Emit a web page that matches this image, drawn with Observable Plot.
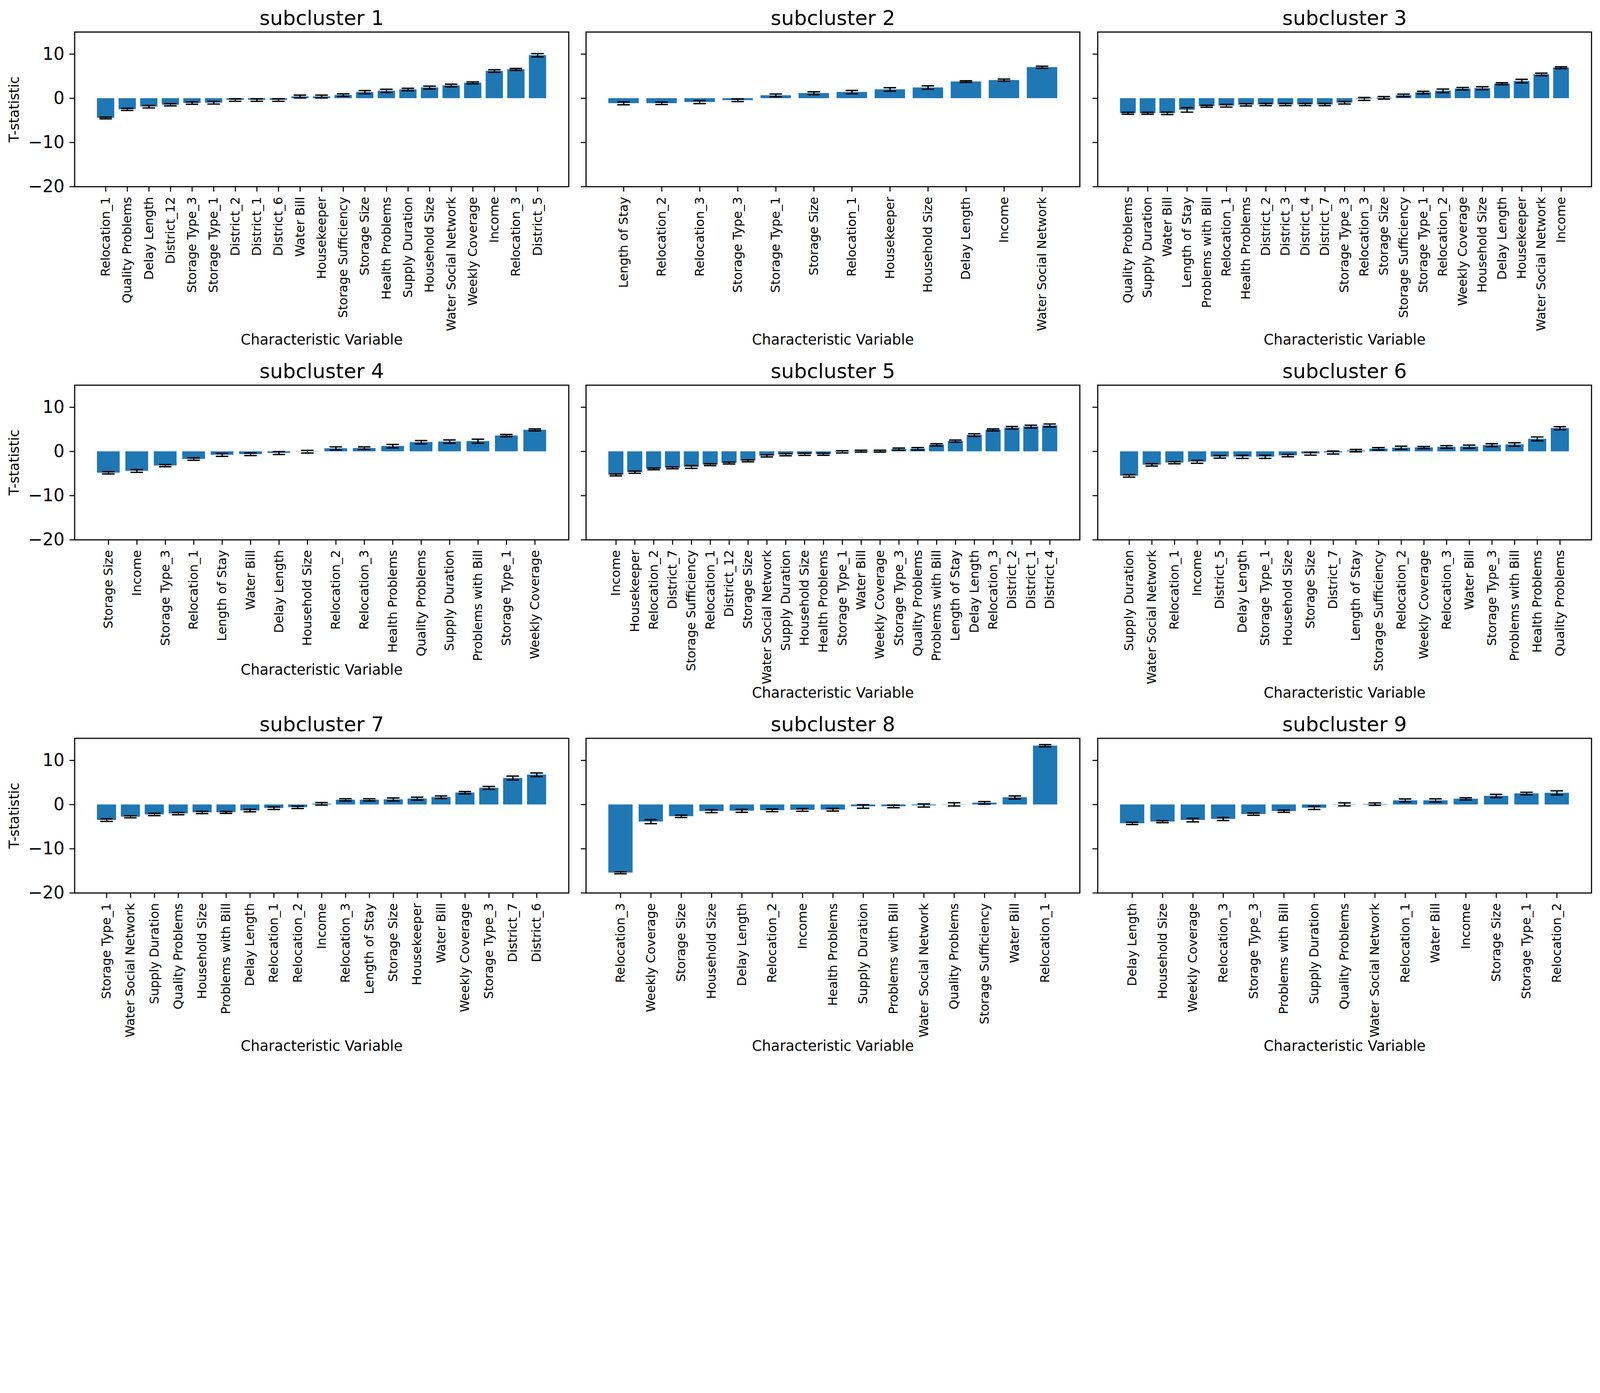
<!DOCTYPE html>
<html>
<head>
<meta charset="utf-8">
<script src="https://cdn.jsdelivr.net/npm/d3@7"></script>
<script src="https://cdn.jsdelivr.net/npm/@observablehq/plot@0.6"></script>
<style>
  html, body { margin: 0; padding: 0; background: white; overflow: hidden; }
  #chart { position: absolute; left: 0; top: 0; width: 5369px; height: 3566px; background: white; overflow: hidden; transform-origin: 0 0; }
  #chart svg { position: absolute; max-width: none; }
</style>
</head>
<body>
<div id="chart"></div>
<script>
// ---------- data ----------
const titles = ["subcluster 1","subcluster 2","subcluster 3","subcluster 4","subcluster 5","subcluster 6","subcluster 7","subcluster 8","subcluster 9"];
const yTicks = [-20, -10, 0, 10];
const yDomain = [-20, 15];
const xLabel = "Characteristic Variable";
const yLabel = "T-statistic";

const names1 = ["Relocation_1","Quality Problems","Delay Length","District_12","Storage Type_3","Storage Type_1","District_2","District_1","District_6","Water Bill","Housekeeper","Storage Sufficiency","Storage Size","Health Problems","Supply Duration","Household Size","Water Social Network","Weekly Coverage","Income","Relocation_3","District_5"];
const values1 = [-4.44,-2.5,-1.9,-1.46,-1.08,-1.0,-0.39,-0.39,-0.39,0.41,0.41,0.72,1.4,1.68,2.0,2.43,2.9,3.5,6.18,6.54,9.74];
const errors1 = [0.2,0.25,0.28,0.25,0.28,0.3,0.29,0.29,0.29,0.32,0.32,0.29,0.36,0.37,0.28,0.33,0.3,0.22,0.29,0.22,0.37];

const names2 = ["Length of Stay","Relocation_2","Relocation_3","Storage Type_3","Storage Type_1","Storage Size","Relocation_1","Housekeeper","Household Size","Delay Length","Income","Water Social Network"];
const values2 = [-1.13,-1.13,-0.86,-0.44,0.66,1.16,1.41,2.01,2.43,3.78,4.11,7.03];
const errors2 = [0.33,0.28,0.34,0.3,0.32,0.32,0.37,0.4,0.39,0.19,0.25,0.25];

const names3 = ["Quality Problems","Supply Duration","Water Bill","Length of Stay","Problems with Bill","Relocation_1","Health Problems","District_2","District_3","District_4","District_7","Storage Type_3","Relocation_3","Storage Size","Storage Sufficiency","Storage Type_1","Relocation_2","Weekly Coverage","Household Size","Delay Length","Housekeeper","Water Social Network","Income"];
const values3 = [-3.39,-3.39,-3.39,-2.62,-1.79,-1.68,-1.46,-1.41,-1.41,-1.41,-1.41,-1.0,-0.14,0.11,0.66,1.3,1.68,2.18,2.29,3.31,3.89,5.41,6.92];
const errors3 = [0.22,0.22,0.28,0.51,0.22,0.3,0.26,0.25,0.25,0.25,0.25,0.28,0.33,0.29,0.29,0.28,0.41,0.28,0.33,0.22,0.41,0.29,0.22];

const names4 = ["Storage Size","Income","Storage Type_3","Relocation_1","Length of Stay","Water Bill","Delay Length","Household Size","Relocation_2","Relocation_3","Health Problems","Quality Problems","Supply Duration","Problems with Bill","Storage Type_1","Weekly Coverage"];
const values4 = [-4.83,-4.41,-3.2,-1.71,-0.77,-0.63,-0.36,-0.05,0.69,0.74,1.21,2.1,2.23,2.32,3.59,4.88];
const errors4 = [0.26,0.32,0.25,0.28,0.34,0.3,0.33,0.3,0.36,0.29,0.39,0.37,0.37,0.46,0.25,0.22];

const names5 = ["Income","Housekeeper","Relocation_2","District_7","Storage Sufficiency","Relocation_1","District_12","Storage Size","Water Social Network","Supply Duration","Household Size","Health Problems","Storage Type_1","Water Bill","Weekly Coverage","Storage Type_3","Quality Problems","Problems with Bill","Length of Stay","Delay Length","Relocation_3","District_2","District_1","District_4"];
const values5 = [-5.3,-4.69,-3.94,-3.7,-3.5,-3.0,-2.62,-2.12,-0.99,-0.72,-0.63,-0.63,-0.08,0.08,0.08,0.52,0.6,1.49,2.34,3.72,4.88,5.35,5.63,5.88];
const errors5 = [0.22,0.25,0.19,0.21,0.32,0.21,0.21,0.22,0.25,0.26,0.26,0.23,0.25,0.22,0.22,0.26,0.28,0.25,0.25,0.29,0.22,0.3,0.32,0.34];

const names6 = ["Supply Duration","Water Social Network","Relocation_1","Income","District_5","Delay Length","Storage Type_1","Household Size","Storage Size","District_7","Length of Stay","Storage Sufficiency","Relocation_2","Weekly Coverage","Relocation_3","Water Bill","Storage Type_3","Problems with Bill","Health Problems","Quality Problems"];
const values6 = [-5.52,-3.03,-2.54,-2.34,-1.21,-1.21,-1.21,-0.91,-0.5,-0.25,0.19,0.61,0.83,0.88,1.02,1.08,1.43,1.57,2.84,5.27];
const errors6 = [0.28,0.26,0.25,0.34,0.29,0.36,0.36,0.28,0.33,0.33,0.28,0.28,0.36,0.25,0.3,0.36,0.34,0.39,0.44,0.34];

const names7 = ["Storage Type_1","Water Social Network","Supply Duration","Quality Problems","Household Size","Problems with Bill","Delay Length","Relocation_1","Relocation_2","Income","Relocation_3","Length of Stay","Storage Size","Housekeeper","Water Bill","Weekly Coverage","Storage Type_3","District_7","District_6"];
const values7 = [-3.5,-2.76,-2.23,-2.04,-1.77,-1.77,-1.35,-0.8,-0.61,0.17,1.08,1.08,1.16,1.35,1.68,2.7,3.78,6.01,6.76];
const errors7 = [0.3,0.23,0.26,0.26,0.26,0.22,0.29,0.3,0.28,0.29,0.26,0.26,0.34,0.33,0.3,0.26,0.33,0.44,0.41];

const names8 = ["Relocation_3","Weekly Coverage","Storage Size","Household Size","Delay Length","Relocation_2","Income","Health Problems","Supply Duration","Problems with Bill","Water Social Network","Quality Problems","Storage Sufficiency","Water Bill","Relocation_1"];
const values8 = [-15.42,-3.86,-2.65,-1.49,-1.41,-1.3,-1.21,-1.16,-0.41,-0.41,-0.19,0.06,0.41,1.63,13.32];
const errors8 = [0.23,0.46,0.26,0.33,0.34,0.3,0.3,0.3,0.4,0.3,0.36,0.36,0.29,0.34,0.25];

const names9 = ["Delay Length","Household Size","Weekly Coverage","Relocation_3","Storage Type_3","Problems with Bill","Supply Duration","Quality Problems","Water Social Network","Relocation_1","Water Bill","Income","Storage Size","Storage Type_1","Relocation_2"];
const values9 = [-4.25,-3.86,-3.5,-3.26,-2.15,-1.49,-0.74,0.06,0.11,0.94,0.94,1.3,1.96,2.51,2.65];
const errors9 = [0.26,0.23,0.41,0.34,0.25,0.26,0.37,0.34,0.28,0.34,0.37,0.25,0.37,0.29,0.46];

const panels = [
  [names1, values1, errors1], [names2, values2, errors2], [names3, values3, errors3],
  [names4, values4, errors4], [names5, values5, errors5], [names6, values6, errors6],
  [names7, values7, errors7], [names8, values8, errors8], [names9, values9, errors9]
];

// ---------- layout ----------
const pageW = 5369, pageH = 3566;
const colLeft = [250, 1966, 3683];
const colWidth = [1658, 1657, 1657];
const rowTop = [107, 1292, 2477];
const frameH = 519;
const mT = 107, mR = 20, mB = 560;
const tickLen = 17, tickPad = 17;
const barColor = "#1f77b4";
const font = "DejaVu Sans";
const xTickFont = 42, yTickFont = 58, labelFont = 48, titleFont = 68;
const capWidth = 42;
const labelGap = 11;

const measure = document.createElement("canvas").getContext("2d");
measure.font = `${xTickFont}px '${font}'`;

const fmt = d => d < 0 ? "\u2212" + Math.abs(d) : String(d);
const chart = document.getElementById("chart");

function fit() {
  const vw = document.documentElement.clientWidth || window.innerWidth;
  const vh = document.documentElement.clientHeight || window.innerHeight;
  const s = Math.min(vw / pageW, vh / pageH);
  chart.style.transform = `scale(${s})`;
}
fit();
window.addEventListener("resize", fit);

panels.forEach(([names, values, errors], i) => {
  const r = Math.floor(i / 3), c = i % 3;
  const n = names.length;
  const W = colWidth[c];
  const mL = c === 0 ? 250 : 40;
  const rows = names.map((name, k) => ({name, value: values[k], err: errors[k]}));
  const paddingOuter = 0.05 * (n - 0.2);
  const step = W / (n - 0.2 + 2 * paddingOuter);
  const bw = step * 0.8;
  const inset = (bw - capWidth) / 2;
  const maxW = d3.max(names, s => measure.measureText(s).width);

  const marks = [
    Plot.barY(rows, {x: "name", y: "value", fill: barColor}),
    Plot.ruleX(rows, {x: "name", y1: d => d.value - d.err, y2: d => d.value + d.err, stroke: "black", strokeWidth: 4.5}),
    Plot.tickY(rows, {x: "name", y: d => d.value - d.err, stroke: "black", strokeWidth: 4.5, insetLeft: inset, insetRight: inset}),
    Plot.tickY(rows, {x: "name", y: d => d.value + d.err, stroke: "black", strokeWidth: 4.5, insetLeft: inset, insetRight: inset}),
    Plot.axisX({tickRotate: -90, tickSize: tickLen, tickPadding: tickPad, fontSize: xTickFont, strokeWidth: 3.5, label: null}),
    Plot.axisY({ticks: yTicks, tickSize: tickLen, tickPadding: tickPad, fontSize: yTickFont, strokeWidth: 3.5, label: null,
                tickFormat: c === 0 ? fmt : () => ""}),
    Plot.frame({stroke: "black", strokeWidth: 3.8}),
    Plot.text([titles[i]], {text: d => d, frameAnchor: "top", textAnchor: "middle", lineAnchor: "bottom", dy: -24, fontSize: titleFont, fill: "black"}),
    Plot.text([xLabel], {text: d => d, frameAnchor: "bottom", textAnchor: "middle", lineAnchor: "top", dy: tickLen + tickPad + maxW + labelGap, fontSize: labelFont, fill: "black"})
  ];
  if (c === 0) {
    marks.push(Plot.text([yLabel], {text: d => d, frameAnchor: "left", textAnchor: "middle", lineAnchor: "middle", rotate: -90, dx: -(mL - 48), fontSize: 46, fill: "black"}));
  }

  const svg = Plot.plot({
    width: mL + W + mR,
    height: mT + frameH + mB,
    marginLeft: mL, marginRight: mR, marginTop: mT, marginBottom: mB,
    style: {background: "transparent", fontFamily: font, color: "black", overflow: "visible"},
    x: {type: "band", domain: names, paddingInner: 0.2, paddingOuter, align: 0.5, round: false, label: null},
    y: {domain: yDomain, label: null},
    marks
  });
  svg.style.left = (colLeft[c] - mL) + "px";
  svg.style.top = (rowTop[r] - mT) + "px";
  chart.appendChild(svg);
});
</script>
</body>
</html>
